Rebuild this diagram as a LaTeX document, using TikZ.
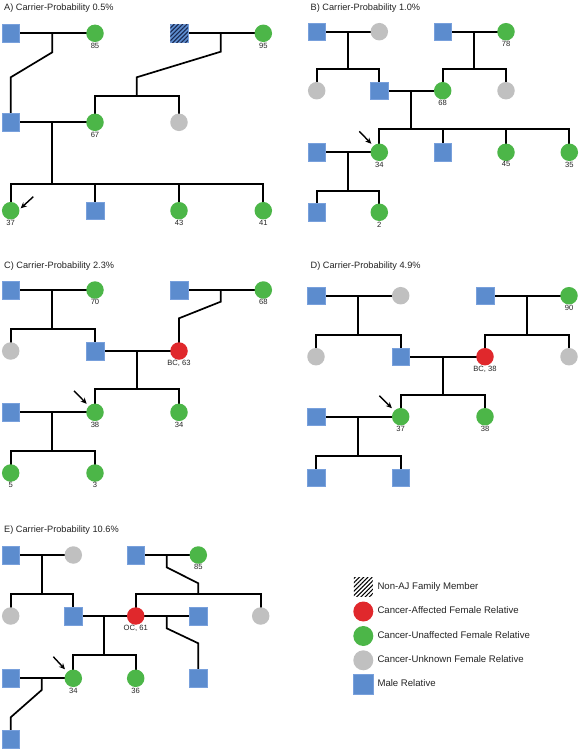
\documentclass[tikz,border=0pt]{standalone}
\usepackage{fontspec}
\setmainfont{Liberation Sans}
\usetikzlibrary{arrows.meta,patterns.meta,calc}
\definecolor{mblue}{RGB}{92,140,206}
\definecolor{mbord}{RGB}{120,160,220}
\definecolor{fgreen}{RGB}{76,182,72}
\definecolor{fred}{RGB}{224,40,44}
\definecolor{fgrey}{RGB}{192,192,192}
\definecolor{navyh}{RGB}{25,40,80}
\definecolor{txt}{RGB}{35,35,35}
\pgfdeclarelayer{bg}
\pgfsetlayers{bg,main}
\tikzset{
  male/.style={rectangle,minimum size=17.5pt,inner sep=0pt,fill=mblue,draw=mbord,line width=0.5pt},
  fem/.style={circle,minimum size=17.5pt,inner sep=0pt,fill=fgreen},
  femr/.style={fem,fill=fred},
  femg/.style={fem,fill=fgrey},
  nonaj/.style={male,postaction={pattern={Lines[angle=45,distance=3pt,line width=1.1pt]},pattern color=navyh}},
  lbl/.style={font=\fontsize{7.6}{8}\selectfont,text=txt,inner sep=0pt},
  every label/.style={lbl},
  label distance=0.3pt,
  ttl/.style={anchor=base west,inner sep=0pt,font=\fontsize{9.2}{10}\selectfont,text=txt},
  lgt/.style={anchor=west,inner sep=0pt,font=\fontsize{9.6}{11}\selectfont,text=txt},
  ln/.style={line width=1.7pt,black,line join=miter},
  arr/.style={line width=1.4pt,black,-{Stealth[length=6pt,width=5.5pt]}},
}
\begin{document}
\begin{tikzpicture}[x=1pt,y=-1pt]
\useasboundingbox (0,0) rectangle (579,750);

% ---------------- Panel A
\node[ttl] (ta) at (4,10) {A) Carrier-Probability 0.5\%};
\node[male] (a1) at (10.7,33.3) {};
\node[fem,label=below:85] (a2) at (95,33.3) {};
\node[nonaj] (a3) at (179,33.3) {};
\node[fem,label=below:95] (a4) at (263.3,33.3) {};
\node[male] (a5) at (10.7,122.3) {};
\node[fem,label=below:67] (a6) at (95,122.3) {};
\node[femg] (a7) at (179,122.3) {};
\node[fem,label=below:37] (a8) at (10.7,210.7) {};
\node[male] (a9) at (95,210.7) {};
\node[fem,label=below:43] (a10) at (179,210.7) {};
\node[fem,label=below:41] (a11) at (263.3,210.7) {};
\coordinate (ma1) at (52.3,33.3);
\coordinate (ma2) at (220.7,33.3);
\coordinate (sa1) at (136.7,96);
\coordinate (ma3) at (52.3,122.3);
\coordinate (sa2) at (52.3,184.3);
\begin{pgfonlayer}{bg}
\draw[ln] (a1.center) -- (a2.center);
\draw[ln] (ma1) -- ++(0,19) -- (10.7,77.3) -- (a5.center);
\draw[ln] (a3.center) -- (a4.center);
\draw[ln] (ma2) -- ++(0,18.4) -- (136.7,77.3) -- (sa1);
\draw[ln] (a6.center) |- (sa1) -| (a7.center);
\draw[ln] (a5.center) -- (a6.center);
\draw[ln] (ma3) -- (sa2);
\draw[ln] (a8.center) |- (sa2) -| (a11.center);
\draw[ln] (a9.center) -- (a9 |- sa2);
\draw[ln] (a10.center) -- (a10 |- sa2);
\end{pgfonlayer}
\draw[arr] ($(a8)+(22.6,-14)$) -- ($(a8)+(10,-2.4)$);

% ---------------- Panel B
\node[ttl] (tb) at (310.5,10) {B) Carrier-Probability 1.0\%};
\node[male] (b1) at (316.7,31.7) {};
\node[femg] (b2) at (379.3,31.7) {};
\node[male] (b3) at (442.7,31.7) {};
\node[fem,label=below:78] (b4) at (506,31.7) {};
\node[femg] (b5) at (316.7,90.7) {};
\node[male] (b6) at (379.3,90.7) {};
\node[fem,label=below:68] (b7) at (442.7,90.7) {};
\node[femg] (b8) at (506,90.7) {};
\node[male] (b9) at (316.7,152.3) {};
\node[fem,label=below:34] (b10) at (379.3,152.3) {};
\node[male] (b11) at (442.7,152.3) {};
\node[fem,label=below:45] (b12) at (506,152.3) {};
\node[fem,label=below:35] (b13) at (569.3,152.3) {};
\node[male] (b14) at (316.7,212.3) {};
\node[fem,label=below:2] (b15) at (379.3,212.3) {};
\coordinate (mb1) at (348.3,31.7);
\coordinate (sb1) at (348.3,69);
\coordinate (mb2) at (474,31.7);
\coordinate (sb2) at (474,69);
\coordinate (mb3) at (410.7,90.7);
\coordinate (sb3) at (410.7,129.3);
\coordinate (mb4) at (348.3,152.3);
\coordinate (sb4) at (348.3,190.7);
\begin{pgfonlayer}{bg}
\draw[ln] (b1.center) -- (b2.center);
\draw[ln] (mb1) -- (sb1);
\draw[ln] (b5.center) |- (sb1) -| (b6.center);
\draw[ln] (b3.center) -- (b4.center);
\draw[ln] (mb2) -- (sb2);
\draw[ln] (b7.center) |- (sb2) -| (b8.center);
\draw[ln] (b6.center) -- (b7.center);
\draw[ln] (mb3) -- (sb3);
\draw[ln] (b10.center) |- (sb3) -| (b13.center);
\draw[ln] (b11.center) -- (b11 |- sb3);
\draw[ln] (b12.center) -- (b12 |- sb3);
\draw[ln] (b9.center) -- (b10.center);
\draw[ln] (mb4) -- (sb4);
\draw[ln] (b14.center) |- (sb4) -| (b15.center);
\end{pgfonlayer}
\draw[arr] ($(b10)+(-20,-21)$) -- ($(b10)+(-8,-8.5)$);

% ---------------- Panel C
\node[ttl] (tc) at (4,268.3) {C) Carrier-Probability 2.3\%};
\node[male] (c1) at (10.7,290) {};
\node[fem,label=below:70] (c2) at (95,290) {};
\node[male] (c3) at (179,290) {};
\node[fem,label=below:68] (c4) at (263.3,290) {};
\node[femg] (c5) at (10.7,351) {};
\node[male] (c6) at (95,351) {};
\node[femr,label={below:BC, 63}] (c7) at (179,351) {};
\node[male] (c8) at (10.7,412.3) {};
\node[fem,label=below:38] (c9) at (95,412.3) {};
\node[fem,label=below:34] (c10) at (179,412.3) {};
\node[fem,label=below:5] (c11) at (10.7,473) {};
\node[fem,label=below:3] (c12) at (95,473) {};
\coordinate (mc1) at (52.3,290);
\coordinate (sc1) at (52.3,328.7);
\coordinate (mc2) at (220.7,290);
\coordinate (mc3) at (136.7,351);
\coordinate (sc3) at (136.7,389.3);
\coordinate (mc4) at (52.3,412.3);
\coordinate (sc4) at (52.3,450.7);
\begin{pgfonlayer}{bg}
\draw[ln] (c1.center) -- (c2.center);
\draw[ln] (mc1) -- (sc1);
\draw[ln] (c5.center) |- (sc1) -| (c6.center);
\draw[ln] (c3.center) -- (c4.center);
\draw[ln] (mc2) -- ++(0,11.7) -- (179,318.3) -- (c7.center);
\draw[ln] (c6.center) -- (c7.center);
\draw[ln] (mc3) -- (sc3);
\draw[ln] (c9.center) |- (sc3) -| (c10.center);
\draw[ln] (c8.center) -- (c9.center);
\draw[ln] (mc4) -- (sc4);
\draw[ln] (c11.center) |- (sc4) -| (c12.center);
\end{pgfonlayer}
\draw[arr] ($(c9)+(-21,-21.5)$) -- ($(c9)+(-8.3,-8.5)$);

% ---------------- Panel D
\node[ttl] (td) at (310.5,268.3) {D) Carrier-Probability 4.9\%};
\node[male] (d1) at (316,295.7) {};
\node[femg] (d2) at (400.7,295.7) {};
\node[male] (d3) at (485,295.7) {};
\node[fem,label=below:90] (d4) at (569,295.7) {};
\node[femg] (d5) at (316,356.7) {};
\node[male] (d6) at (400.7,356.7) {};
\node[femr,label={below:BC, 38}] (d7) at (485,356.7) {};
\node[femg] (d8) at (569,356.7) {};
\node[male] (d9) at (316,416.7) {};
\node[fem,label=below:37] (d10) at (400.7,416.7) {};
\node[fem,label=below:38] (d11) at (485,416.7) {};
\node[male] (d12) at (316,477.5) {};
\node[male] (d13) at (400.7,477.5) {};
\coordinate (md1) at (358.3,295.7);
\coordinate (sd1) at (358.3,335);
\coordinate (md2) at (526.7,295.7);
\coordinate (sd2) at (526.7,335);
\coordinate (md3) at (442.7,356.7);
\coordinate (sd3) at (442.7,395);
\coordinate (md4) at (358.3,416.7);
\coordinate (sd4) at (358.3,455.7);
\begin{pgfonlayer}{bg}
\draw[ln] (d1.center) -- (d2.center);
\draw[ln] (md1) -- (sd1);
\draw[ln] (d5.center) |- (sd1) -| (d6.center);
\draw[ln] (d3.center) -- (d4.center);
\draw[ln] (md2) -- (sd2);
\draw[ln] (d7.center) |- (sd2) -| (d8.center);
\draw[ln] (d6.center) -- (d7.center);
\draw[ln] (md3) -- (sd3);
\draw[ln] (d10.center) |- (sd3) -| (d11.center);
\draw[ln] (d9.center) -- (d10.center);
\draw[ln] (md4) -- (sd4);
\draw[ln] (d12.center) |- (sd4) -| (d13.center);
\end{pgfonlayer}
\draw[arr] ($(d10)+(-21.4,-21)$) -- ($(d10)+(-8.8,-8.5)$);

% ---------------- Panel E
\node[ttl] (te) at (4,532.3) {E) Carrier-Probability 10.6\%};
\node[male] (e1) at (10.7,555) {};
\node[femg] (e2) at (73.3,555) {};
\node[male] (e3) at (135.7,555) {};
\node[fem,label=below:85] (e4) at (198.3,555) {};
\node[femg] (e5) at (10.7,616) {};
\node[male] (e6) at (73.3,616) {};
\node[femr,label={below:OC, 61}] (e7) at (135.7,616) {};
\node[male] (e8) at (198.3,616) {};
\node[femg] (e9) at (260.7,616) {};
\node[male] (e10) at (10.7,678.3) {};
\node[fem,label=below:34] (e11) at (73.3,678.3) {};
\node[fem,label=below:36] (e12) at (135.7,678.3) {};
\node[male] (e13) at (198.3,678.3) {};
\node[male] (e14) at (10.7,739.3) {};
\coordinate (me1) at (41.7,555);
\coordinate (se1) at (41.7,594);
\coordinate (me2) at (166.7,555);
\coordinate (se2) at (198.3,594);
\coordinate (me3) at (104.3,616);
\coordinate (se3) at (104.3,655);
\coordinate (me4) at (166.7,616);
\coordinate (me5) at (41.7,678.3);
\begin{pgfonlayer}{bg}
\draw[ln] (e1.center) -- (e2.center);
\draw[ln] (me1) -- (se1);
\draw[ln] (e5.center) |- (se1) -| (e6.center);
\draw[ln] (e3.center) -- (e4.center);
\draw[ln] (me2) -- ++(0,12.3) -- (198.3,583.3) -- (se2);
\draw[ln] (e7.center) |- (se2) -| (e9.center);
\draw[ln] (e6.center) -- (e8.center);
\draw[ln] (me3) -- (se3);
\draw[ln] (e11.center) |- (se3) -| (e12.center);
\draw[ln] (me4) -- ++(0,12.3) -- (198.3,643.3) -- (e13.center);
\draw[ln] (e10.center) -- (e11.center);
\draw[ln] (me5) -- ++(0,11.7) -- (10.7,717.3) -- (e14.center);
\end{pgfonlayer}
\draw[arr] ($(e11)+(-20,-21.6)$) -- ($(e11)+(-8.3,-9)$);

% ---------------- Legend
\node[rectangle,minimum size=19pt,inner sep=0pt,pattern={Lines[angle=45,distance=3pt,line width=1.1pt]},pattern color=black] (l1) at (363.3,586.5) {};
\node[lgt] (lt1) at (377.3,586.7) {Non-AJ Family Member};
\node[fem,minimum size=20pt,fill=fred] (l2) at (363.3,611.5) {};
\node[lgt] (lt2) at (377.3,610.5) {Cancer-Affected Female Relative};
\node[fem,minimum size=20pt] (l3) at (363.3,636) {};
\node[lgt] (lt3) at (377.3,635) {Cancer-Unaffected Female Relative};
\node[fem,minimum size=20pt,fill=fgrey] (l4) at (363.3,660.3) {};
\node[lgt] (lt4) at (377.3,659.5) {Cancer-Unknown Female Relative};
\node[male,minimum size=20pt] (l5) at (363.3,684.3) {};
\node[lgt] (lt5) at (377.3,683.5) {Male Relative};
\end{tikzpicture}
\end{document}
